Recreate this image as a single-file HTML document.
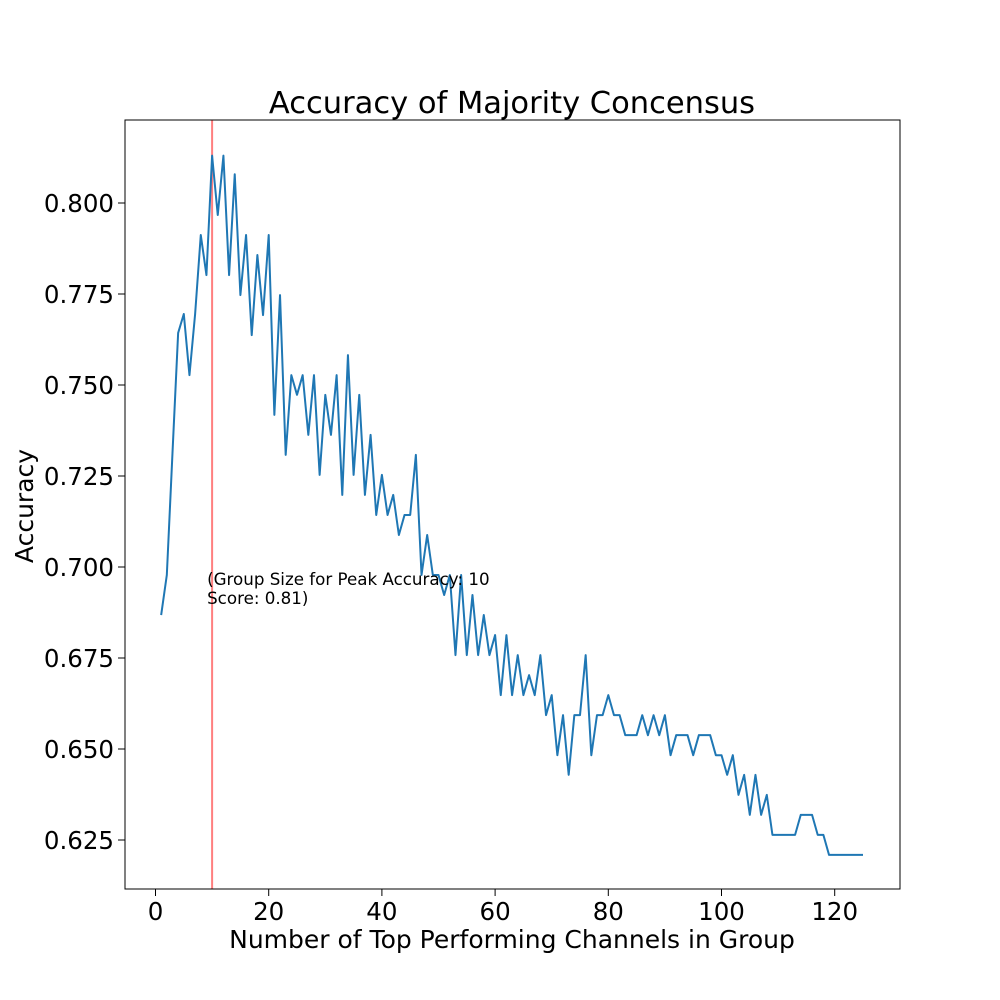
<!DOCTYPE html>
<html><head><meta charset="utf-8">
<style>
body{margin:0;background:#fff;}
svg{display:block;font-family:"DejaVu Sans","Liberation Sans",sans-serif;}
</style></head>
<body>
<svg id="chart" width="1000" height="1000" viewBox="0 0 1000 1000">
<rect width="1000" height="1000" fill="#fff"/>
<text x="512" y="113" font-size="30.5" text-anchor="middle">Accuracy of Majority Concensus</text>
<text x="512" y="948" font-size="25" text-anchor="middle">Number of Top Performing Channels in Group</text>
<text transform="translate(33,506) rotate(-90)" font-size="25" text-anchor="middle">Accuracy</text>
<g id="xticks"></g>
<g id="yticks"></g>
<g id="plot"></g>
<rect x="125" y="120" width="775" height="769" fill="none" stroke="#000" stroke-width="1"/>
</svg>
<script>
const xTicks=[0,20,40,60,80,100,120];
const yTicks=[0.625,0.650,0.675,0.700,0.725,0.750,0.775,0.800];
const yTickLabels=["0.625","0.650","0.675","0.700","0.725","0.750","0.775","0.800"];
const groupSizes=[];for(let i=1;i<=125;i++)groupSizes.push(i);
const accuracy=[0.6868,0.6978,0.7313,0.7643,0.7695,0.7527,0.7695,0.7912,0.7802,0.8130,
0.7967,0.8130,0.7802,0.8079,0.7747,0.7912,0.7637,0.7857,0.7692,0.7912,
0.7418,0.7747,0.7308,0.7527,0.7473,0.7527,0.7363,0.7527,0.7253,0.7473,
0.7363,0.7527,0.7198,0.7582,0.7253,0.7473,0.7198,0.7363,0.7143,0.7253,
0.7143,0.7198,0.7088,0.7143,0.7143,0.7308,0.6978,0.7088,0.6978,0.6978,
0.6923,0.6978,0.6758,0.6978,0.6758,0.6923,0.6758,0.6868,0.6758,0.6813,
0.6648,0.6813,0.6648,0.6758,0.6648,0.6703,0.6648,0.6758,0.6593,0.6648,
0.6483,0.6593,0.6429,0.6593,0.6593,0.6758,0.6483,0.6593,0.6593,0.6648,
0.6593,0.6593,0.6538,0.6538,0.6538,0.6593,0.6538,0.6593,0.6538,0.6593,
0.6483,0.6538,0.6538,0.6538,0.6483,0.6538,0.6538,0.6538,0.6483,0.6483,
0.6429,0.6483,0.6374,0.6429,0.6319,0.6429,0.6319,0.6374,0.6264,0.6264,
0.6264,0.6264,0.6264,0.6319,0.6319,0.6319,0.6264,0.6264,0.6209,0.6209,
0.6209,0.6209,0.6209,0.6209,0.6209];
const peakGroup=10;
const peakScoreLabel="0.81";

const NS="http://www.w3.org/2000/svg";
const xScale=v=>155.5+v*5.66;
const yScale=v=>203+(0.8-v)*3640;
const xg=document.getElementById('xticks'),yg=document.getElementById('yticks'),pg=document.getElementById('plot');
function mk(tag,attrs,parent){const e=document.createElementNS(NS,tag);for(const k in attrs)e.setAttribute(k,attrs[k]);parent.appendChild(e);return e;}
xTicks.forEach(t=>{
  const x=xScale(t);
  const l=mk('line',{x1:x,x2:x,y1:889,y2:896,stroke:'#000','stroke-width':1},xg);
  
  
  const tx=mk('text',{x:x,y:920,'font-size':24.5,'text-anchor':'middle'},xg);
  tx.textContent=t;
  
  
});
yTicks.forEach((t,i)=>{
  const y=yScale(t);
  const l=mk('line',{x1:118,x2:125,y1:y,y2:y,stroke:'#000','stroke-width':1},yg);
  
  
  const tx=mk('text',{x:114,y:y+9,'font-size':24.5,'text-anchor':'end'},yg);
  tx.textContent=yTickLabels[i];
  
  
});
const vl=mk('line',{x1:xScale(peakGroup),x2:xScale(peakGroup),y1:120,y2:889,stroke:'#ff7f7f','stroke-width':2},pg);


const pts=accuracy.map((v,i)=>xScale(groupSizes[i]).toFixed(2)+','+yScale(v).toFixed(2)).join(' ');
const pl=mk('polyline',{points:pts,fill:'none',stroke:'#1f77b4','stroke-width':2,'stroke-linejoin':'round'},pg);


const a1=mk('text',{x:xScale(peakGroup)-5,y:585,'font-size':16.7},pg);
a1.textContent='(Group Size for Peak Accuracy: '+peakGroup;


const a2=mk('text',{x:xScale(peakGroup)-5,y:604,'font-size':16.7},pg);
a2.textContent='Score: '+peakScoreLabel+')';


</script>
</body></html>
